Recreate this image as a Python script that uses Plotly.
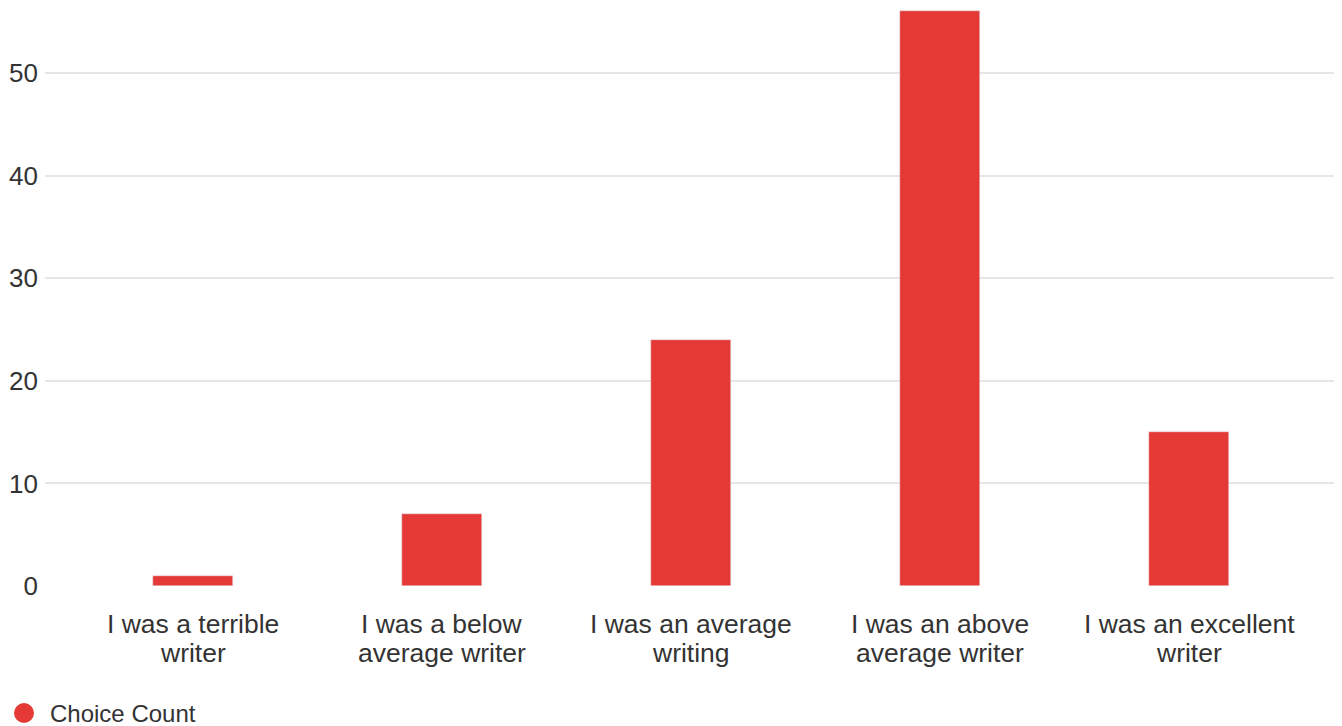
import plotly.graph_objects as go

categories = [
    "I was a terrible writer",
    "I was a below average writer",
    "I was an average writing",
    "I was an above average writer",
    "I was an excellent writer",
]
label_line1 = ["I was a terrible", "I was a below", "I was an average", "I was an above", "I was an excellent"]
label_line2 = ["writer", "average writer", "writing", "average writer", "writer"]
counts = [1, 7, 24, 56, 15]
series_name = "Choice Count"
y_ticks = [0, 10, 20, 30, 40, 50]

RED = "#e53935"
TEXT = "#333333"
FONT = "Liberation Sans, Arial, sans-serif"

W, H = 1334, 718
ML, MR, MT, MB = 37, 5, 0, 140
PW, PH = W - ML - MR, H - MT - MB


def px_to_paper_x(px):
    return (px - ML) / PW


def px_to_paper_y(py):
    return (H - MB - py) / PH


fig = go.Figure()
fig.add_trace(go.Bar(
    x=categories, y=counts, marker_color=RED, width=0.32,
    showlegend=False, name=series_name,
))

annotations = []
for c, l1, l2 in zip(categories, label_line1, label_line2):
    annotations.append(dict(x=c, y=0, xref="x", yref="y", text=l1, showarrow=False,
                            yanchor="middle", yshift=-38, font=dict(size=26.5, color=TEXT, family=FONT)))
    annotations.append(dict(x=c, y=0, xref="x", yref="y", text=l2, showarrow=False,
                            yanchor="middle", yshift=-67, font=dict(size=26.5, color=TEXT, family=FONT)))

# legend (manual: circle swatch + label)
lx, ly, r = 16, 705, 10
annotations.append(dict(
    x=px_to_paper_x(40), y=px_to_paper_y(ly), xref="paper", yref="paper",
    text=series_name, showarrow=False, xanchor="left", yanchor="middle",
    font=dict(size=24, color=TEXT, family=FONT),
))
shapes = [dict(
    type="circle", xref="paper", yref="paper",
    x0=px_to_paper_x(lx - r), x1=px_to_paper_x(lx + r),
    y0=px_to_paper_y(ly + r), y1=px_to_paper_y(ly - r),
    fillcolor=RED, line=dict(width=0),
)]

fig.update_layout(
    width=W, height=H,
    margin=dict(l=ML, r=MR, t=MT, b=MB),
    paper_bgcolor="white", plot_bgcolor="white",
    font=dict(family=FONT, color=TEXT, size=26),
    bargap=0,
    showlegend=False,
    annotations=annotations,
    shapes=shapes,
)
fig.update_xaxes(
    type="category", range=[-0.594, 4.594], showticklabels=False,
    showgrid=False, zeroline=False, showline=False, ticks="",
)
fig.update_yaxes(
    range=[0, 578 / 10.26], tickvals=y_ticks, ticktext=[str(v) for v in y_ticks],
    showgrid=True, gridcolor="#e6e6e6", gridwidth=2, zeroline=False, showline=False,
    ticks="", tickfont=dict(size=26, color=TEXT, family=FONT), ticklabelstandoff=6,
)

fig.write_html("out.html")
